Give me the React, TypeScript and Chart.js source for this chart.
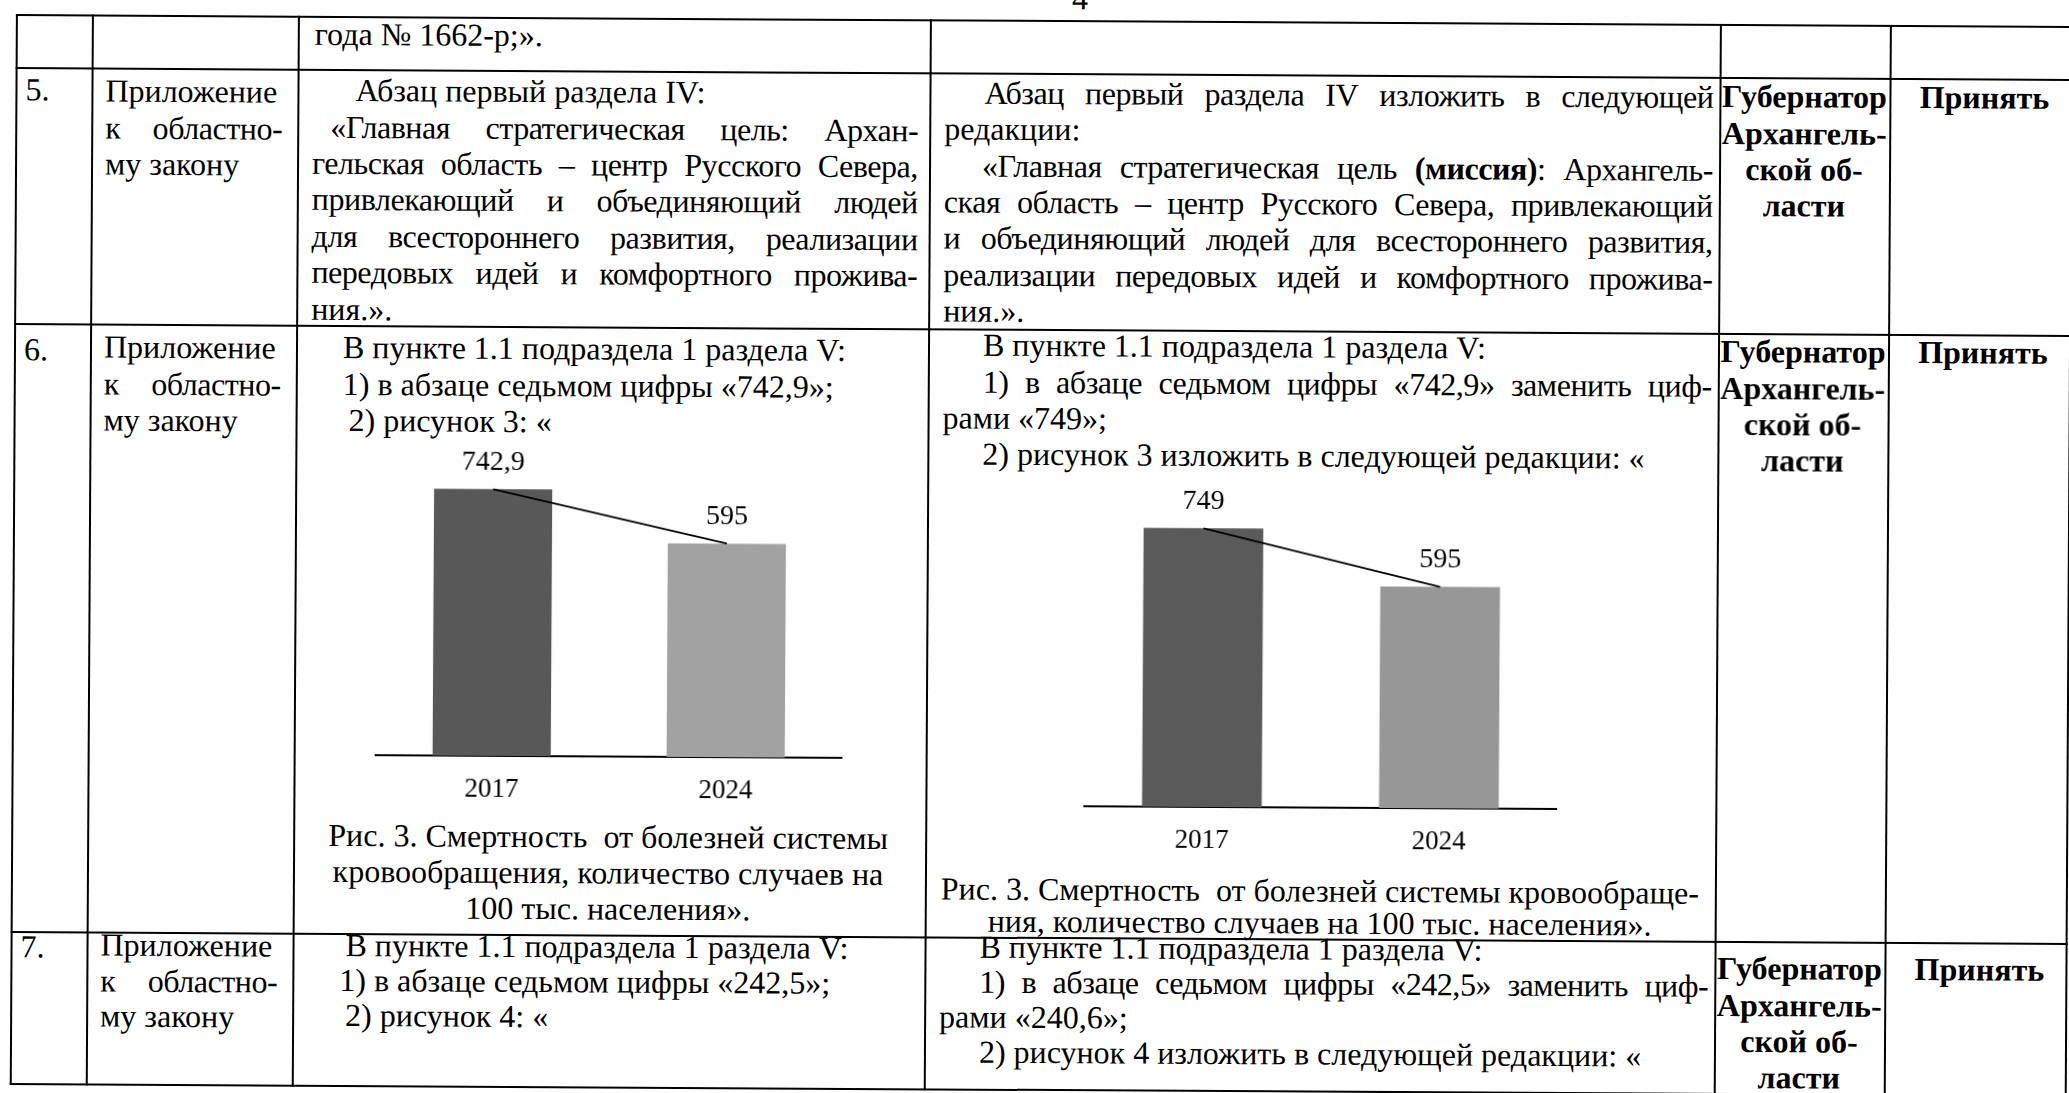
import React, { useEffect, useRef } from "react";
import { Chart, registerables } from "chart.js";

Chart.register(...registerables);

// ---------- chart data ----------
const years: string[] = ["2017", "2024"];
const mortalityOld: number[] = [742.9, 595];
const mortalityNew: number[] = [749, 595];
const oldBarColors: string[] = ["#585858", "#a2a2a2"];
const newBarColors: string[] = ["#5a5a5a", "#979797"];

// ---------- typography ----------
const FONT = '"Liberation Serif", "Times New Roman", serif';
const FS = 32;
const LH = 26;
const ASC = (LH - 1.107 * FS) / 2 + 0.891 * FS;
const STEP = 36.4;

const fmt = (v: number) => String(v).replace(".", ",");

const valueLabelPlugin = {
  id: "valueLabels",
  afterDatasetsDraw(chart: any) {
    const ctx = chart.ctx;
    const idx = chart.data.datasets.findIndex((d: any) => d.type === "bar");
    const meta = chart.getDatasetMeta(idx);
    const ds = chart.data.datasets[idx];
    ctx.save();
    ctx.font = `28px ${FONT}`;
    ctx.fillStyle = "#000";
    ctx.textAlign = "center";
    ctx.textBaseline = "middle";
    meta.data.forEach((el: any, i: number) => {
      ctx.fillText(fmt(ds.data[i]), el.x, el.y - 27);
    });
    ctx.restore();
  },
};

type ChartProps = {
  values: number[];
  colors: string[];
  left: number;
  top: number;
  width: number;
  height: number;
  padTop: number;
  yMax: number;
  tickPad: number;
};

function MortalityChart({ values, colors, left, top, width, height, padTop, yMax, tickPad }: ChartProps) {
  const ref = useRef<HTMLCanvasElement>(null);
  useEffect(() => {
    const chart = new Chart(ref.current as HTMLCanvasElement, {
      type: "bar",
      data: {
        labels: years,
        datasets: [
          {
            type: "line",
            data: values,
            borderColor: "#000",
            borderWidth: 1.8,
            pointRadius: 0,
            tension: 0,
            order: 0,
            clip: false,
          } as any,
          {
            type: "bar",
            data: values,
            backgroundColor: colors,
            borderWidth: 0,
            barPercentage: 0.505,
            categoryPercentage: 1,
            order: 1,
          } as any,
        ],
      },
      options: {
        responsive: false,
        maintainAspectRatio: false,
        animation: false,
        layout: { padding: { top: padTop, left: 0, right: 0, bottom: 0 } },
        plugins: { legend: { display: false }, tooltip: { enabled: false } },
        scales: {
          x: {
            grid: { display: false, drawTicks: false },
            border: { display: true, color: "#000", width: 2 },
            ticks: { color: "#000", font: { family: FONT, size: 27 }, padding: tickPad },
            afterFit: (s: any) => {
              s.height = 60;
            },
          } as any,
          y: { display: false, min: 0, max: yMax },
        },
      },
      plugins: [valueLabelPlugin],
    });
    return () => chart.destroy();
  }, []);
  return (
    <div style={{ position: "absolute", left, top, width, height }}>
      <canvas ref={ref} width={width} height={height} />
    </div>
  );
}

// ---------- text helpers ----------
function L({ x, b, children, bold }: { x: number; b: number; children: React.ReactNode; bold?: boolean }) {
  return (
    <div
      style={{
        position: "absolute",
        left: x,
        top: b - ASC,
        whiteSpace: "pre",
        fontWeight: bold ? 700 : 400,
        lineHeight: LH + "px",
      }}
    >
      {children}
    </div>
  );
}

function J({ x, r, b, words }: { x: number; r: number; b: number; words: React.ReactNode[] | string }) {
  const ws = typeof words === "string" ? words.split(/\s+/) : words;
  return (
    <div
      style={{
        position: "absolute",
        left: x,
        top: b - ASC,
        width: r - x,
        display: "flex",
        justifyContent: "space-between",
        whiteSpace: "pre",
        letterSpacing: "-0.45px",
        lineHeight: LH + "px",
      }}
    >
      {ws.map((w, i) => (
        <span key={i} style={{ flexShrink: 0 }}>
          {w}
        </span>
      ))}
    </div>
  );
}

function C({ cx, b, children, bold }: { cx: number; b: number; children: React.ReactNode; bold?: boolean }) {
  return (
    <div
      style={{
        position: "absolute",
        left: cx - 450,
        width: 900,
        top: b - ASC,
        textAlign: "center",
        whiteSpace: "pre",
        fontWeight: bold ? 700 : 400,
        lineHeight: LH + "px",
      }}
    >
      {children}
    </div>
  );
}

// ---------- table geometry ----------
const HL = [15, 68, 324, 931.5, 1084];
const VL = [17, 93, 299, 931, 1721, 1891, 2072];

const C1X = 26;
const C2L = 106, C2R = 283;
const C3L = 313, C3R = 919, C3I = 345;
const C4L = 945, C4R = 1714, C4I = 985;
const C5X = 1805, C6X = 1985;

function AppendixCell({ b, step = STEP }: { b: number; step?: number }) {
  return (
    <>
      <L x={C2L} b={b}>Приложение</L>
      <J x={C2L} r={C2R} b={b + step} words="к областно-" />
      <L x={C2L} b={b + 2 * step}>му закону</L>
    </>
  );
}

function GovCell({ b }: { b: number }) {
  return (
    <>
      <C cx={C5X} b={b} bold>Губернатор</C>
      <C cx={C5X} b={b + STEP} bold>Архангель-</C>
      <C cx={C5X} b={b + 2 * STEP} bold>ской об-</C>
      <C cx={C5X} b={b + 3 * STEP} bold>ласти</C>
      <C cx={C6X} b={b} bold>Принять</C>
    </>
  );
}

export default function App() {
  const r5c3 = 99, r5c4 = 97.5;
  const r6c3 = 356, r6c4 = 350;
  const r7c3 = 954, S7 = 34.8;
  const r7c4 = 952;
  return (
    <div
      style={{
        position: "absolute",
        left: 0,
        top: 0,
        width: 2069,
        height: 1093,
        overflow: "hidden",
        background: "#fff",
      }}
    >
      <div
        style={{
          position: "absolute",
          left: 0,
          top: 0,
          width: 2069,
          height: 1093,
          transform: "rotate(0.33deg)",
          transformOrigin: "0 0",
          fontFamily: FONT,
          fontSize: FS,
          color: "#000",
        }}
      >
        {/* page number */}
        <C cx={1080} b={3}>4</C>

        {/* table grid */}
        {HL.map((y, i) => (
          <div
            key={"h" + i}
            style={{ position: "absolute", left: VL[0] - 1, top: y - 1, width: VL[VL.length - 1] - VL[0] + 2, height: 2, background: "#000" }}
          />
        ))}
        {VL.map((x, i) => (
          <div
            key={"v" + i}
            style={{ position: "absolute", left: x - 1, top: HL[0] - 1, width: 2, height: HL[HL.length - 1] - HL[0] + 2, background: "#000" }}
          />
        ))}

        {/* row (continued from previous page) */}
        <L x={315} b={43}>года № 1662-р;».</L>

        {/* row 5 */}
        <L x={C1X} b={99.5}>5.</L>
        <AppendixCell b={101} />
        <L x={356} b={r5c3}>Абзац первый раздела IV:</L>
        <J x={331} r={C3R} b={r5c3 + STEP} words="«Главная стратегическая цель: Архан-" />
        <J x={C3L} r={C3R} b={r5c3 + 2 * STEP} words="гельская область – центр Русского Севера," />
        <J x={C3L} r={C3R} b={r5c3 + 3 * STEP} words="привлекающий и объединяющий людей" />
        <J x={C3L} r={C3R} b={r5c3 + 4 * STEP} words="для всестороннего развития, реализации" />
        <J x={C3L} r={C3R} b={r5c3 + 5 * STEP} words="передовых идей и комфортного прожива-" />
        <L x={C3L} b={r5c3 + 6 * STEP}>ния.».</L>

        <J x={C4I} r={C4R} b={r5c4} words="Абзац первый раздела IV изложить в следующей" />
        <L x={C4L} b={r5c4 + STEP}>редакции:</L>
        <J
          x={983}
          r={C4R}
          b={r5c4 + 2 * STEP}
          words={[
            "«Главная",
            "стратегическая",
            "цель",
            <span>
              <b>(миссия)</b>:
            </span>,
            "Архангель-",
          ]}
        />
        <J x={C4L} r={C4R} b={r5c4 + 3 * STEP} words="ская область – центр Русского Севера, привлекающий" />
        <J x={C4L} r={C4R} b={r5c4 + 4 * STEP} words="и объединяющий людей для всестороннего развития," />
        <J x={C4L} r={C4R} b={r5c4 + 5 * STEP} words="реализации передовых идей и комфортного прожива-" />
        <L x={C4L} b={r5c4 + 6 * STEP}>ния.».</L>
        <GovCell b={97} />

        {/* row 6 */}
        <L x={C1X} b={360}>6.</L>
        <AppendixCell b={357} />
        <L x={C3I} b={r6c3}>В пункте 1.1 подраздела 1 раздела V:</L>
        <L x={C3I} b={r6c3 + STEP}>1) в абзаце седьмом цифры «742,9»;</L>
        <L x={C3I + 6} b={r6c3 + 2 * STEP}>2) рисунок 3: «</L>

        <MortalityChart
          values={mortalityOld}
          colors={oldBarColors}
          left={379}
          top={410}
          width={468}
          height={403}
          padTop={30}
          yMax={872}
          tickPad={18}
        />

        <C cx={613} b={843.5}>Рис. 3. Смертность  от болезней системы</C>
        <C cx={613} b={879.5}>кровообращения, количество случаев на</C>
        <C cx={613} b={915.5}>100 тыс. населения».</C>

        <L x={C4I} b={r6c4}>В пункте 1.1 подраздела 1 раздела V:</L>
        <J x={C4I} r={C4R} b={r6c4 + STEP} words="1) в абзаце седьмом цифры «742,9» заменить циф-" />
        <L x={C4L} b={r6c4 + 2 * STEP}>рами «749»;</L>
        <L x={C4I} b={r6c4 + 3 * STEP}>2) рисунок 3 изложить в следующей редакции: «</L>

        <MortalityChart
          values={mortalityNew}
          colors={newBarColors}
          left={1088}
          top={455}
          width={474}
          height={405}
          padTop={25}
          yMax={860}
          tickPad={18}
        />

        <C cx={1325} b={894}>Рис. 3. Смертность  от болезней системы кровообраще-</C>
        <C cx={1325} b={926}>ния, количество случаев на 100 тыс. населения».</C>
        <GovCell b={352} />

        {/* row 7 */}
        <L x={C1X} b={957}>7.</L>
        <AppendixCell b={955} step={35.5} />
        <L x={C3I + 6} b={r7c3}>В пункте 1.1 подраздела 1 раздела V:</L>
        <L x={C3I} b={r7c3 + S7}>1) в абзаце седьмом цифры «242,5»;</L>
        <L x={C3I + 6} b={r7c3 + 2 * S7}>2) рисунок 4: «</L>

        <L x={C4I} b={r7c4}>В пункте 1.1 подраздела 1 раздела V:</L>
        <J x={C4I} r={C4R} b={r7c4 + S7} words="1) в абзаце седьмом цифры «242,5» заменить циф-" />
        <L x={C4L} b={r7c4 + 2 * S7}>рами «240,6»;</L>
        <L x={C4I} b={r7c4 + 3 * S7}>2) рисунок 4 изложить в следующей редакции: «</L>
        <GovCell b={969} />
      </div>
    </div>
  );
}
